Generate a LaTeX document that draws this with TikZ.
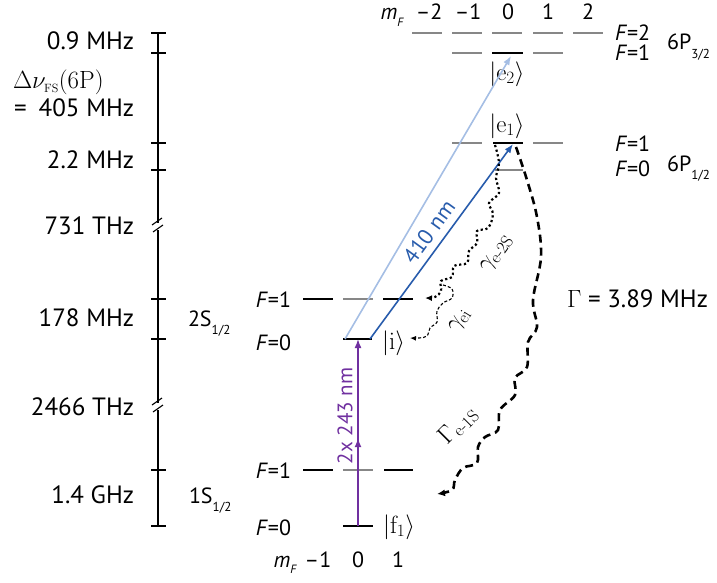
\documentclass[tikz,border=0pt]{standalone}
\usepackage[no-math]{fontspec}
\setmainfont{PT Sans}
\usetikzlibrary{arrows.meta,decorations.markings}
\definecolor{purp}{RGB}{112,48,160}
\definecolor{dblue}{RGB}{40,92,172}
\definecolor{lblue}{RGB}{165,190,228}
\definecolor{lgray}{RGB}{135,135,135}
\newcommand\mFlbl{\textit{m}\raisebox{-0.3em}{\fontsize{12}{12}\selectfont\textit{F}}}
\newcommand\lsub[1]{\raisebox{-0.4em}{\fontsize{13}{13}\selectfont #1}}
\newcommand\hy{\mathchar"702D}
\begin{document}
\begin{tikzpicture}[x=1pt,y=-1pt,font=\fontsize{22}{26}\selectfont,
  lev/.style={line width=2pt},
  glev/.style={lev,draw=lgray},
  blev/.style={lev,draw=black},
  axis/.style={line width=1.1pt},
  txt/.style={inner sep=0pt,outer sep=0pt},
  big/.style={txt,font=\fontsize{25}{29}\selectfont},
  tip/.style={-{Latex[length=9pt,width=7pt]}},
  mathlbl/.style={inner sep=0pt,font=\fontsize{23}{27}\selectfont},
]
\useasboundingbox (0,0) rectangle (717,583);

% ---------- frequency scale ----------
\draw[axis] (158,33) -- (158,223);
\draw[axis] (158,230) -- (158,403);
\draw[axis] (158,410) -- (158,526);
\draw[axis] (152,225) -- (162,218);
\draw[axis] (153,232) -- (163,225);
\draw[axis] (152,405) -- (162,398);
\draw[axis] (153,412) -- (163,405);
\foreach \y in {33,53,143,170,299,339,470,526}
  \draw[axis] (151,\y) -- (166,\y);

\node[big,anchor=base east] (s1) at (134,50) {0.9 MHz};
\node[txt,anchor=base west,font=\fontsize{26}{30}\selectfont] (s2) at (13,89) {$\Delta\nu_{\scriptscriptstyle\mathrm{FS}}(6\mathrm{P})$};
\node[big,anchor=base west] (s3a) at (14,117) {=};
\node[big,anchor=base east] (s3) at (134,117) {405 MHz};
\node[big,anchor=base east] (s4) at (134,168) {2.2 MHz};
\node[big,anchor=base east] (s5) at (134,234) {731 THz};
\node[big,anchor=base east] (s6) at (134,326) {178 MHz};
\node[big,anchor=base east] (s7) at (134,415) {2466 THz};
\node[big,anchor=base east] (s8) at (134,503) {1.4 GHz};

% ---------- S levels ----------
\node[txt,anchor=base west] (n2S) at (188,326) {2S\lsub{1/2}};
\node[txt,anchor=base west] (n1S) at (189,503) {1S\lsub{1/2}};
\node[txt,anchor=base east] (f2a) at (291,307) {\textit{F}=1};
\node[txt,anchor=base east] (f2b) at (291,350) {\textit{F}=0};
\node[txt,anchor=base east] (f1a) at (291,478) {\textit{F}=1};
\node[txt,anchor=base east] (f1b) at (291,535) {\textit{F}=0};

\draw[blev] (303,299) -- (333,299);
\draw[glev] (343,299) -- (373,299);
\draw[blev] (383,299) -- (413,299);
\draw[blev] (343,339) -- (372,339);
\draw[blev] (303,470) -- (333,470);
\draw[glev] (343,470) -- (373,470);
\draw[blev] (384,470) -- (413,470);
\draw[blev] (343,526) -- (373,526);

\node[txt,anchor=base east] (mfb) at (297,567) {\mFlbl};
\node[txt,anchor=base] (mb1) at (318,567) {--1};
\node[txt,anchor=base] (mb2) at (358,567) {0};
\node[txt,anchor=base] (mb3) at (398,567) {1};

\node[mathlbl,anchor=west] (ket_i) at (382,343) {$|\mathrm{i}\rangle$};
\node[mathlbl,anchor=west] (ket_f) at (383,527) {$|\mathrm{f}_1\rangle$};

% ---------- 6P levels ----------
\node[txt,anchor=base east] (mft) at (404,20) {\mFlbl};
\node[txt,anchor=base] (mt1) at (429,20) {--2};
\node[txt,anchor=base] (mt2) at (468,20) {--1};
\node[txt,anchor=base] (mt3) at (508,20) {0};
\node[txt,anchor=base] (mt4) at (548,20) {1};
\node[txt,anchor=base] (mt5) at (588,20) {2};

\foreach \x in {427,467,507,548,588}
  \draw[glev] (\x-15,33) -- (\x+15,33);
\draw[glev] (452,53) -- (482,53);
\draw[blev] (492,53) -- (523,53);
\draw[glev] (533,53) -- (563,53);
\draw[glev] (452,143) -- (482,143);
\draw[blev] (493,143) -- (523,143);
\draw[glev] (533,143) -- (563,143);
\draw[glev] (495,170) -- (523,170);

\node[txt,anchor=base west] (F2t) at (615,41) {\textit{F}=2};
\node[txt,anchor=base west] (F1t) at (615,61) {\textit{F}=1};
\node[txt,anchor=base west] (P32) at (667,50) {6P\lsub{3/2}};
\node[txt,anchor=base west] (F1m) at (615,151) {\textit{F}=1};
\node[txt,anchor=base west] (F0m) at (615,176) {\textit{F}=0};
\node[txt,anchor=base west] (P12) at (667,171) {6P\lsub{1/2}};

\node[mathlbl] (ket_e2) at (507,74) {$|\mathrm{e}_2\rangle$};
\node[mathlbl] (ket_e1) at (507,126) {$|\mathrm{e}_1\rangle$};

% ---------- coordinates ----------
\coordinate (f1) at (358,526);
\coordinate (iC) at (358,339);
\coordinate (iL) at (345,339);
\coordinate (iR) at (370,339);
\coordinate (e2tip) at (511,56);
\coordinate (e1tip) at (513,144);
\coordinate (e1L) at (495,145);
\coordinate (e1R) at (516,147);
\coordinate (twoS1) at (425,298);
\coordinate (ei0) at (443,285);
\coordinate (iend) at (410,338);
\coordinate (oneS) at (437,494);

% ---------- laser arrows ----------
\draw[lblue,line width=1.6pt,tip] (iL) -- (e2tip);
\draw[dblue,line width=1.6pt,tip] (iR) -- (e1tip);
\draw[purp,line width=1.6pt,tip,
  postaction={decorate},
  decoration={markings,mark=at position 0.47 with {\arrow{Latex[length=9pt,width=7pt]}}}]
  (f1) -- (iC);

\node[txt,text=dblue,rotate=54] (l410) at (429,232) {410 nm};
\node[txt,text=purp,rotate=90,font=\fontsize{21}{24}\selectfont] (l243) at (345,416) {2x 243 nm};

% ---------- decay paths ----------
\draw[line width=2.2pt,dash pattern=on 2.2pt off 2.6pt,-{Latex[length=7pt,width=6pt]}]
  plot[smooth,tension=0.6] coordinates {(e1L) (499,163) (496,178) (499,193) (489,203) (493,214) (488,228) (477,231) (477,243) (469,251) (467,263) (454,266) (452,277) (441,281) (441,291) (435,297) (twoS1)};

\draw[line width=1.1pt,dash pattern=on 3pt off 2pt,-{Latex[length=6pt,width=5pt]}]
  plot[smooth,tension=0.6] coordinates {(ei0) (452,289) (452,298) (443,303) (437,311) (437,322) (430,328) (427,336) (419,338) (iend)};

\draw[line width=2.6pt,dash pattern=on 8pt off 5pt,-{Latex[length=8pt,width=7pt]}]
  plot[smooth,tension=0.6] coordinates {(e1R) (527,180) (537,217) (541,257) (533,300) (537,327) (528,342) (527,367) (515,378) (515,395) (500,410) (498,430) (485,437) (478,447) (477,463) (463,468) (455,480) (452,490) (oneS)};

\node[mathlbl,rotate=55] (g2S) at (497,254) {$\gamma_{\mathrm{e}\hy\mathrm{2S}}$};
\node[mathlbl,rotate=58] (gei) at (460,321) {$\gamma_{\mathrm{ei}}$};
\node[mathlbl,rotate=45] (G1S) at (458,425) {$\Gamma_{\mathrm{e}\hy\mathrm{1S}}$};
\node[big,anchor=base west] (Gam) at (567,307) {$\Gamma$ = 3.89 MHz};
\end{tikzpicture}
\end{document}
